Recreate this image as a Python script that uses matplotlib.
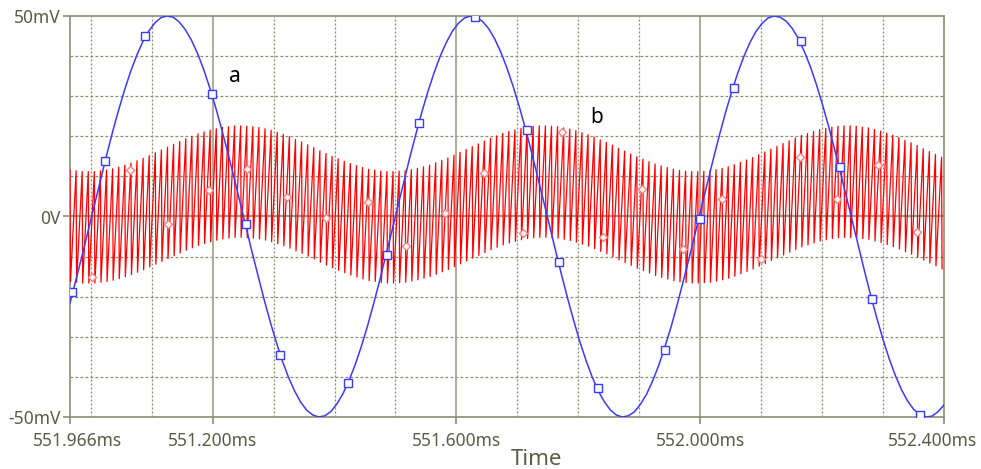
import numpy as np
import matplotlib
matplotlib.use("Agg")
import matplotlib.pyplot as plt
from matplotlib.transforms import ScaledTranslation

plt.rcParams["font.family"] = ["Noto Sans", "DejaVu Sans"]

# time window [ms]
T_START = 550.966
T_END = 552.400

# trace a: low-frequency sine, sampled on an even time base [mV]
a_values = [
    -21.6, -15.7, -9.7, -3.5, 2.8, 9.0, 15.1, 21.0, 26.5, 31.6,
    36.2, 40.2, 43.6, 46.3, 48.3, 49.6, 50.0, 49.7, 48.5, 46.6,
    44.0, 40.7, 36.8, 32.2, 27.2, 21.7, 15.9, 9.9, 3.7, -2.6,
    -8.9, -14.9, -20.8, -26.3, -31.4, -36.1, -40.1, -43.5, -46.3, -48.3,
    -49.5, -50.0, -49.7, -48.6, -46.7, -44.1, -40.8, -36.9, -32.4, -27.4,
    -21.9, -16.1, -10.0, -3.8, 2.4, 8.7, 14.8, 20.6, 26.2, 31.3,
    35.9, 40.0, 43.4, 46.2, 48.2, 49.5, 50.0, 49.7, 48.6, 46.8,
    44.2, 40.9, 37.0, 32.5, 27.5, 22.1, 16.3, 10.2, 4.0, -2.3,
    -8.5, -14.6, -20.5, -26.0, -31.2, -35.8, -39.9, -43.4, -46.1, -48.2,
    -49.5, -50.0, -49.7, -48.7, -46.8, -44.3, -41.0, -37.1, -32.6, -27.7,
    -22.2, -16.4, -10.4, -4.2, 2.1, 8.3, 14.4, 20.3, 25.9, 31.0,
    35.7, 39.8, 43.3, 46.1, 48.1, 49.5, 50.0, 49.7, 48.7, 46.9,
    44.4, 41.1, 37.3, 32.8, 27.8, 22.4, 16.6, 10.6, 4.4, -1.9,
    -8.1, -14.2, -20.1, -25.7, -30.9, -35.6, -39.7, -43.2, -46.0, -48.1,
    -49.4, -50.0, -49.8, -48.7, -47.0,
]

# trace a: sample markers (time ms, value mV)
a_mark_t = [550.969, 551.023, 551.089, 551.199, 551.255, 551.310, 551.422,
            551.486, 551.538, 551.630, 551.715, 551.768, 551.832, 551.943,
            551.999, 552.055, 552.166, 552.230, 552.282, 552.361]
a_mark_v = [-18.8, 13.8, 45.0, 30.5, -1.9, -34.5, -41.4,
            -9.6, 23.3, 49.8, 21.6, -11.3, -42.8, -33.3,
            -0.6, 32.0, 43.8, 12.3, -20.6, -49.5]

# trace b: 100 kHz carrier, midline of each cycle [mV] and half swing
B_PERIOD = 0.01
B_FALL = 0.08         # fraction of a cycle spent going from top to bottom
B_SWING = 13.9
b_mid = [
    -2.3, -2.5, -2.7, -2.7, -2.7, -2.5, -2.3, -2.0, -1.6, -1.1,
    -0.6, 0.0, 0.6, 1.3, 2.0, 2.7, 3.4, 4.1, 4.8, 5.5,
    6.1, 6.7, 7.2, 7.6, 8.0, 8.3, 8.5, 8.7, 8.7, 8.6,
    8.5, 8.3, 8.0, 7.6, 7.1, 6.6, 6.0, 5.3, 4.7, 4.0,
    3.3, 2.5, 1.8, 1.1, 0.5, -0.1, -0.7, -1.2, -1.7, -2.1,
    -2.3, -2.6, -2.7, -2.7, -2.6, -2.5, -2.2, -1.9, -1.5, -1.1,
    -0.5, 0.1, 0.7, 1.4, 2.1, 2.8, 3.5, 4.2, 4.9, 5.6,
    6.2, 6.8, 7.3, 7.7, 8.1, 8.4, 8.6, 8.7, 8.7, 8.6,
    8.5, 8.2, 7.9, 7.5, 7.0, 6.5, 5.9, 5.2, 4.6, 3.9,
    3.1, 2.4, 1.7, 1.0, 0.4, -0.2, -0.8, -1.3, -1.7, -2.1,
    -2.4, -2.6, -2.7, -2.7, -2.6, -2.5, -2.2, -1.9, -1.5, -1.0,
    -0.4, 0.2, 0.8, 1.5, 2.2, 2.9, 3.6, 4.3, 5.0, 5.7,
    6.3, 6.8, 7.3, 7.8, 8.1, 8.4, 8.6, 8.7, 8.7, 8.6,
    8.4, 8.2, 7.8, 7.4, 6.9, 6.4, 5.8, 5.1, 4.5, 3.8,
    3.0, 2.3, 1.6, 0.9,
]

# trace b: sample markers
b_mark_t = [551.002, 551.064, 551.127, 551.194, 551.256, 551.322, 551.386,
            551.455, 551.517, 551.582, 551.645, 551.710, 551.774, 551.840,
            551.905, 551.971, 552.035, 552.100, 552.163, 552.225, 552.292,
            552.356]
b_mark_v = [-15.1, 11.6, -1.9, 6.6, 11.8, 4.9, -0.4,
            3.6, -7.4, 0.9, 10.8, -4.1, 21.1, -5.1,
            6.9, -8.1, 4.4, -10.6, 14.8, 4.4, 12.8,
            -3.9]

x_ticks = [550.966, 551.2, 551.6, 552.0, 552.4]
x_tick_labels = ["551.966ms", "551.200ms", "551.600ms", "552.000ms", "552.400ms"]
y_ticks = [-50, 0, 50]
y_tick_labels = ["-50mV", "0V", "50mV"]

FRAME = "#8c8c74"
GRID = "#8a8a6c"
TEXT = "#5c5c44"


def main():
    fig = plt.figure(figsize=(9.81, 4.69), dpi=100)
    ax = fig.add_axes([70 / 981, 1 - 417 / 469, 874 / 981, 401 / 469])

    # grid
    for v in [-40, -30, -20, -10, 10, 20, 30, 40]:
        ax.axhline(v, color=GRID, lw=0.9, ls=(0, (2.2, 1.8)), zorder=1)
    ax.axhline(0, color="#9a9a8a", lw=1.6, zorder=1)
    for t in np.arange(551.0, 552.35, 0.1):
        t = round(t, 1)
        if t in (551.2, 551.6, 552.0):
            ax.axvline(t, color="#a6a690", lw=1.3, zorder=1)
        else:
            ax.axvline(t, color=GRID, lw=0.9, ls=(0, (1.6, 1.6)), zorder=1)

    # trace b as a zigzag between upper and lower peaks
    mid = np.array(b_mid)
    t_hi = T_START + B_PERIOD * np.arange(len(mid))
    t_lo = t_hi + B_PERIOD * B_FALL
    bt = np.column_stack([t_hi, t_lo]).ravel()
    bv = np.column_stack([mid + B_SWING, mid - B_SWING]).ravel()
    ax.plot(bt, bv, color="#ff0000", lw=0.9, zorder=3)
    ax.plot(b_mark_t, b_mark_v, ls="none", marker="D", ms=4.2, mfc="white",
            mec="#ff8080", mew=1.0, zorder=4)

    # trace a
    at = np.linspace(T_START, T_END, len(a_values))
    ax.plot(at, a_values, color="#3a3aff", lw=1.1, zorder=5)
    ax.plot(a_mark_t, a_mark_v, ls="none", marker="s", ms=5.5, mfc="white",
            mec="#3a3aff", mew=1.0, zorder=6)

    ax.set_xlim(T_START, T_END)
    ax.set_ylim(-50, 50)

    for s in ax.spines.values():
        s.set_color(FRAME)
        s.set_linewidth(1.2)

    ax.set_xticks(x_ticks)
    ax.set_xticklabels(x_tick_labels)
    ax.set_yticks(y_ticks)
    ax.set_yticklabels(y_tick_labels)
    ax.tick_params(axis="both", direction="out", length=5, width=1.2,
                   color=FRAME, labelcolor=TEXT, labelsize=12.5)
    ax.tick_params(axis="x", pad=6)
    ax.tick_params(axis="y", pad=2)

    labels = ax.get_xticklabels()
    labels[0].set_transform(labels[0].get_transform()
                            + ScaledTranslation(8 / 100, 0, fig.dpi_scale_trans))
    labels[-1].set_transform(labels[-1].get_transform()
                             + ScaledTranslation(-11 / 100, 0, fig.dpi_scale_trans))

    ax.set_xlabel("Time", color=TEXT, fontsize=16)
    ax.xaxis.set_label_coords(0.534, -0.08)

    ax.text(551.236, 35.0, "a", fontsize=15, color="black", ha="center", va="center")
    ax.text(551.830, 24.6, "b", fontsize=15, color="black", ha="center", va="center")

    fig.savefig("out.png", dpi=100)


if __name__ == "__main__":
    main()
